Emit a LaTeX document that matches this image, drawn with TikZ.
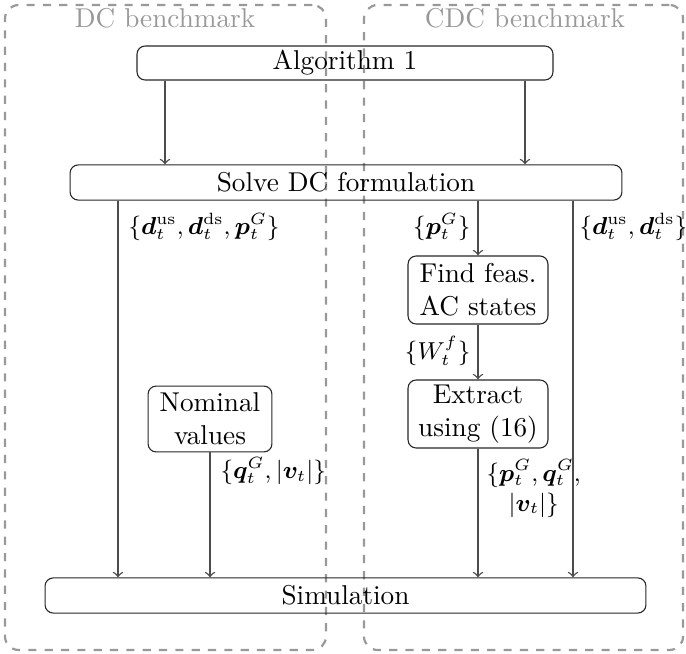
\documentclass[tikz,border=0pt]{standalone}
\usepackage{bm}
\begin{document}
\begin{tikzpicture}[x=0.3673pt, y=-0.3673pt,
  box/.style={draw=black!85, rounded corners=3pt, inner sep=0pt, align=center},
  frame/.style={draw=black!40, dashed, line width=0.8pt, rounded corners=5pt, inner sep=0pt},
  conn/.style={draw=black!70, ->, line width=0.5pt},
  lab/.style={inner sep=0pt, font=\small},
  ttl/.style={text=black!40, inner sep=0pt}]
\useasboundingbox (0,0) rectangle (686,654);
% frames
\node[frame, minimum width=117.9pt, minimum height=236.9pt] (dcf) at (165.5,327.5) {};
\node[frame, minimum width=117.2pt, minimum height=236.9pt] (cdcf) at (523.5,327.5) {};
\node[ttl] (dct) at (165,18) {DC benchmark};
\node[ttl] (cdct) at (525,18) {CDC benchmark};
% boxes
\node[box, minimum width=152.8pt, minimum height=12.5pt] (alg) at (345,63) {Algorithm 1};
\node[box, minimum width=202.7pt, minimum height=12.9pt] (solve) at (346,182.5) {Solve DC formulation};
\node[box, minimum width=51.4pt, minimum height=25pt] (find) at (478,290) {Find feas.\\AC states};
\node[box, minimum width=51.4pt, minimum height=25pt] (extr) at (478,414) {Extract\\using (16)};
\node[box, minimum width=45.5pt, minimum height=24.2pt] (nom) at (210,419) {Nominal\\values};
\node[box, minimum width=220.7pt, minimum height=12.9pt] (sim) at (345.5,595.5) {Simulation};
% x positions
\coordinate (xa) at (165,0);
\coordinate (xb) at (525,0);
\coordinate (xc) at (118,0);
\coordinate (xd) at (478,0);
\coordinate (xe) at (573,0);
% connectors
\draw[conn] (alg.south -| xa) -- (solve.north -| xa);
\draw[conn] (alg.south -| xb) -- (solve.north -| xb);
\draw[conn] (solve.south -| xc) -- (sim.north -| xc);
\draw[conn] (solve.south -| xd) -- (find.north);
\draw[conn] (solve.south -| xe) -- (sim.north -| xe);
\draw[conn] (find.south) -- (extr.north);
\draw[conn] (nom.south) -- (sim.north -| nom.south);
\draw[conn] (extr.south) -- (sim.north -| extr.south);
% labels
\node[lab, anchor=west] (l1) at (128,227) {$\{\bm d_t^{\mathrm{us}}, \bm d_t^{\mathrm{ds}}, \bm p_t^G\}$};
\node[lab, anchor=east] (l2) at (471,227) {$\{\bm p_t^G\}$};
\node[lab, anchor=west] (l3) at (579,227) {$\{\bm d_t^{\mathrm{us}}, \bm d_t^{\mathrm{ds}}\}$};
\node[lab, anchor=east] (l4) at (471,351) {$\{W_t^f\}$};
\node[lab, anchor=west] (l5) at (220,471) {$\{\bm q_t^G, |\bm v_t|\}$};
\node[lab, anchor=north west, align=center] (l6) at (486,459) {$\{\bm p_t^G, \bm q_t^G,$\\$|\bm v_t|\}$};
\end{tikzpicture}
\end{document}
